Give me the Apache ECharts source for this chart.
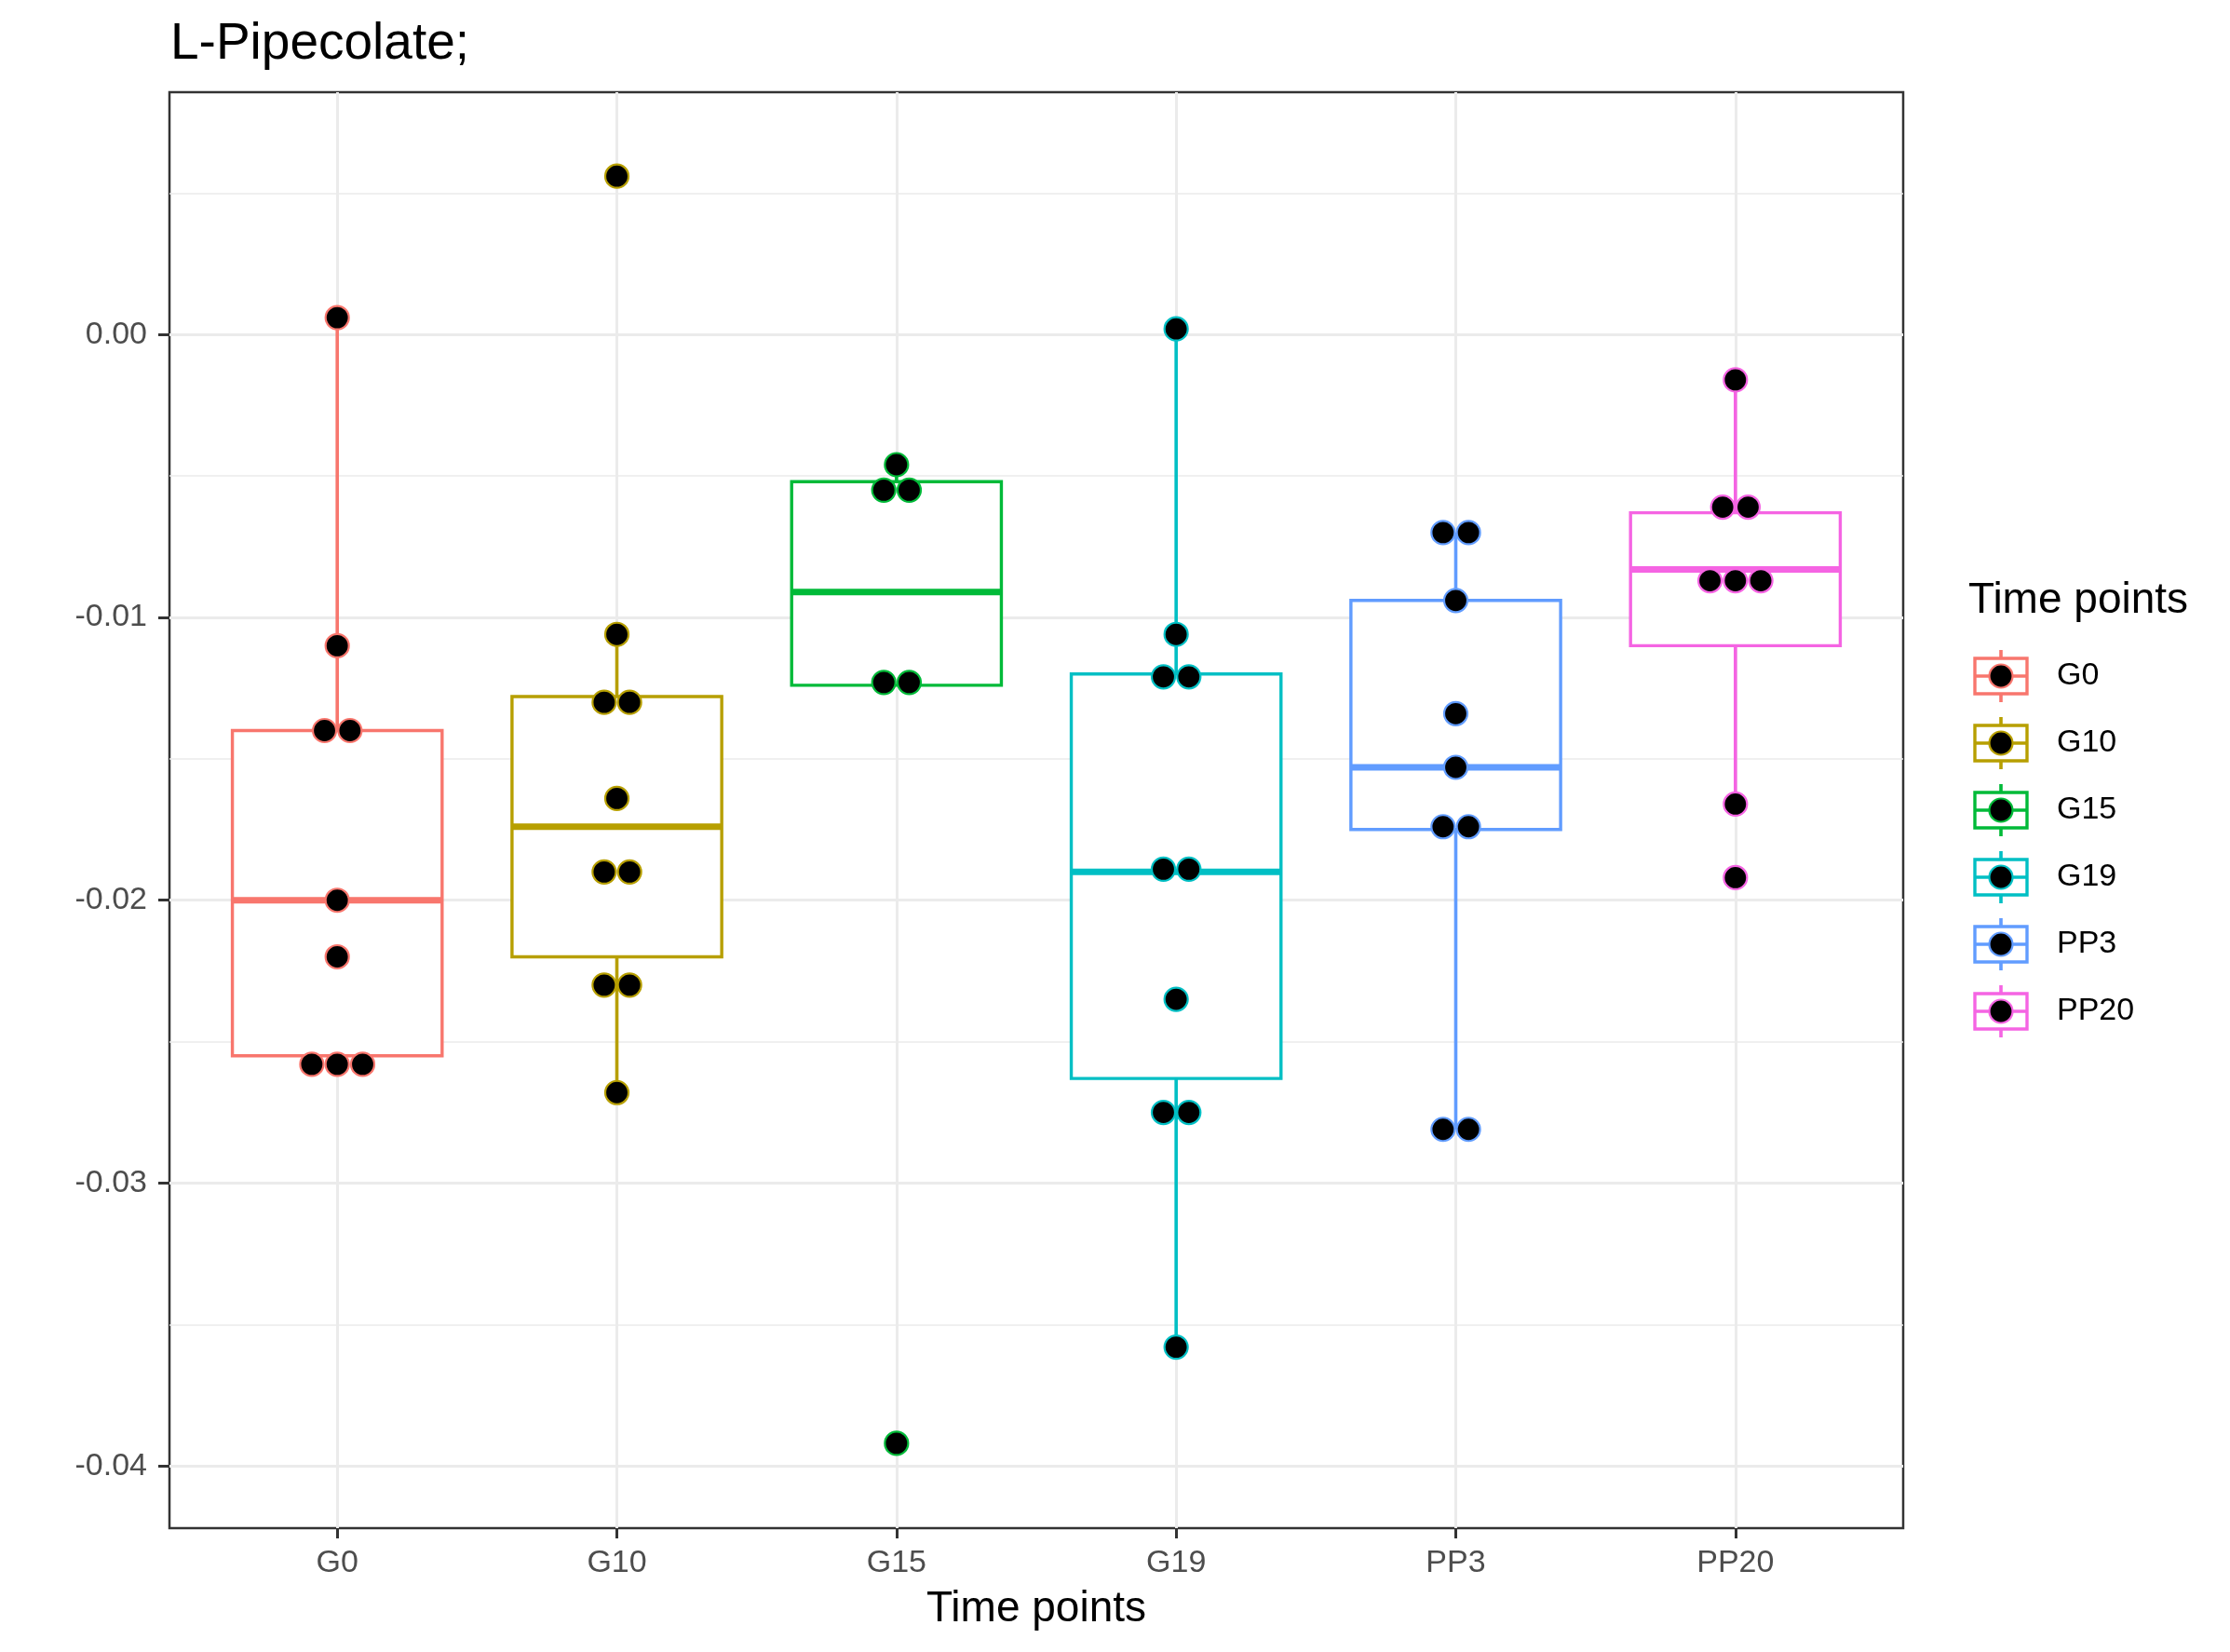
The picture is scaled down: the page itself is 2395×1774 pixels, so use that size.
<!DOCTYPE html>
<html>
<head>
<meta charset="utf-8">
<script src="https://cdn.jsdelivr.net/npm/echarts@6/dist/echarts.min.js"></script>
<style>
html,body{margin:0;padding:0;background:#fff;}
#chart{width:2395px;height:1774px;}
</style>
</head>
<body>
<div id="chart"></div>
<script>
// ---- data ----
const categories = ['G0', 'G10', 'G15', 'G19', 'PP3', 'PP20'];
const yTickValues = [-0.04, -0.03, -0.02, -0.01, 0];
const yMinorValues = [-0.035, -0.025, -0.015, -0.005, 0.005];

const pointsG0   = [0.0006, -0.0110, -0.0140, -0.0140, -0.0200, -0.0220, -0.0258, -0.0258, -0.0258];
const pointsG10  = [0.0056, -0.0106, -0.0130, -0.0130, -0.0164, -0.0190, -0.0190, -0.0230, -0.0230, -0.0268];
const pointsG15  = [-0.0046, -0.0055, -0.0055, -0.0123, -0.0123, -0.0392];
const pointsG19  = [0.0002, -0.0106, -0.0121, -0.0121, -0.0189, -0.0189, -0.0235, -0.0275, -0.0275, -0.0358];
const pointsPP3  = [-0.0070, -0.0070, -0.0094, -0.0134, -0.0153, -0.0174, -0.0174, -0.0281, -0.0281];
const pointsPP20 = [-0.0016, -0.0061, -0.0061, -0.0087, -0.0087, -0.0087, -0.0166, -0.0192];

// box stats: [lower whisker, Q1, median, Q3, upper whisker]
const boxG0   = [-0.0255, -0.0255, -0.0200, -0.0140, 0.0006];
const boxG10  = [-0.0268, -0.0220, -0.0174, -0.0128, -0.0106];
const boxG15  = [-0.0124, -0.0124, -0.0091, -0.0052, -0.0046];
const boxG19  = [-0.0358, -0.0263, -0.0190, -0.0120, 0.0002];
const boxPP3  = [-0.0281, -0.0175, -0.0153, -0.0094, -0.0070];
const boxPP20 = [-0.0166, -0.0110, -0.0083, -0.0063, -0.0016];

// ---- styles ----
const colors = ['#F8766D', '#B79F00', '#00BA38', '#00BFC4', '#619CFF', '#F564E3'];
const FONT = "'Liberation Sans', Arial, Helvetica, sans-serif";

const allPoints = [pointsG0, pointsG10, pointsG15, pointsG19, pointsPP3, pointsPP20];
const allBoxes = [boxG0, boxG10, boxG15, boxG19, boxPP3, boxPP20];

const DOT = 25;        // dot size
const STACK = 27.3;    // horizontal spacing of stacked dots (px)

const boxData = allBoxes.map((b, i) => [i + 1].concat(b).concat([i]));

const scatterSeries = allPoints.map((vals, gi) => {
  const counts = {};
  vals.forEach(v => { const k = v.toFixed(5); counts[k] = (counts[k] || 0) + 1; });
  const seen = {};
  const data = vals.map(v => {
    const k = v.toFixed(5);
    const n = counts[k];
    const idx = seen[k] || 0;
    seen[k] = idx + 1;
    const off = (idx - (n - 1) / 2) * STACK;
    return { value: [gi + 1, v], symbolOffset: [off, 0] };
  });
  return {
    type: 'scatter',
    name: categories[gi],
    data: data,
    symbol: 'circle',
    symbolSize: DOT,
    z: 5,
    itemStyle: { color: '#000', borderColor: colors[gi], borderWidth: 2.2, opacity: 1 },
    emphasis: { disabled: true },
    silent: true
  };
});

const chart = echarts.init(document.getElementById('chart'), null, { renderer: 'canvas' });

// legend built from categories/colors
const legendGraphics = [];
const LX = 2121, LW = 56, LY0 = 726, LSTEP = 72;
legendGraphics.push({
  type: 'text', left: 2114, top: 622,
  style: { text: 'Time points', font: '46px ' + FONT, fill: '#000' }
});
categories.forEach((c, i) => {
  const cy = LY0 + i * LSTEP;
  const cx = LX + LW / 2;
  legendGraphics.push({ type: 'line', shape: { x1: cx, y1: cy - 28, x2: cx, y2: cy + 28 }, style: { stroke: colors[i], lineWidth: 3.6 } });
  legendGraphics.push({ type: 'rect', shape: { x: LX, y: cy - 19, width: LW, height: 38 }, style: { fill: '#fff', stroke: colors[i], lineWidth: 3.4 } });
  legendGraphics.push({ type: 'line', shape: { x1: LX, y1: cy, x2: LX + LW, y2: cy }, style: { stroke: colors[i], lineWidth: 3.4 } });
  legendGraphics.push({ type: 'circle', shape: { cx: cx, cy: cy, r: 12.5 }, style: { fill: '#000', stroke: colors[i], lineWidth: 2.2 } });
  legendGraphics.push({ type: 'text', x: 2209, y: cy, style: { text: c, font: '34px ' + FONT, fill: '#000', textVerticalAlign: 'middle', verticalAlign: 'middle' } });
});

const option = {
  animation: false,
  backgroundColor: '#fff',
  title: {
    text: 'L-Pipecolate;',
    left: 178, top: 15,
    textStyle: { fontFamily: FONT, fontSize: 55, fontWeight: 'normal', color: '#000' }
  },
  grid: {
    left: 182, top: 99, width: 1862, height: 1542,
    show: true, borderColor: '#333333', borderWidth: 2.5, backgroundColor: 'transparent',
    containLabel: false
  },
  xAxis: {
    type: 'value', min: 0.4, max: 6.6, position: 'bottom',
    axisLine: { show: false, onZero: false },
    axisTick: { show: true, customValues: [1, 2, 3, 4, 5, 6], length: 11, lineStyle: { color: '#333333', width: 3 } },
    axisLabel: {
      customValues: [1, 2, 3, 4, 5, 6],
      formatter: v => categories[Math.round(v) - 1],
      color: '#4D4D4D', fontSize: 34, fontFamily: FONT, margin: 21
    },
    splitLine: { show: true, lineStyle: { color: '#EBEBEB', width: 3 } },
    name: 'Time points', nameLocation: 'middle', nameGap: 64,
    nameTextStyle: { fontFamily: FONT, fontSize: 46, color: '#000' }
  },
  yAxis: [{
    type: 'value', min: -0.0422, max: 0.00857, position: 'left',
    axisLine: { show: false, onZero: false },
    axisTick: { show: true, customValues: yTickValues, length: 12, lineStyle: { color: '#333333', width: 3 } },
    axisLabel: {
      customValues: yTickValues,
      formatter: v => (Math.abs(v) < 1e-12 ? 0 : v).toFixed(2),
      color: '#4D4D4D', fontSize: 34, fontFamily: FONT, margin: 24
    },
    splitLine: { show: true, lineStyle: { color: '#EBEBEB', width: 3 } }
  }, {
    type: 'value', min: -0.0422, max: 0.00857, position: 'left',
    axisLine: { show: false, onZero: false },
    axisTick: { show: false, customValues: yMinorValues },
    axisLabel: { show: false, customValues: yMinorValues },
    splitLine: { show: true, lineStyle: { color: '#EBEBEB', width: 1.6 } }
  }],
  series: [{
    type: 'custom',
    name: 'boxes',
    data: boxData,
    encode: { x: 0, y: [1, 2, 3, 4, 5] },
    z: 3,
    silent: true,
    renderItem: function (params, api) {
      const x = api.value(0);
      const lo = api.coord([x, api.value(1)]);
      const q1 = api.coord([x, api.value(2)]);
      const md = api.coord([x, api.value(3)]);
      const q3 = api.coord([x, api.value(4)]);
      const hi = api.coord([x, api.value(5)]);
      const w = api.size([0.75, 0])[0];
      const col = colors[api.value(6)];
      const cx = lo[0];
      return {
        type: 'group',
        children: [
          { type: 'line', shape: { x1: cx, y1: hi[1], x2: cx, y2: q3[1] }, style: { stroke: col, lineWidth: 3.6 } },
          { type: 'line', shape: { x1: cx, y1: q1[1], x2: cx, y2: lo[1] }, style: { stroke: col, lineWidth: 3.6 } },
          { type: 'rect', shape: { x: cx - w / 2, y: q3[1], width: w, height: q1[1] - q3[1] }, style: { fill: '#fff', stroke: col, lineWidth: 3.4 } },
          { type: 'line', shape: { x1: cx - w / 2, y1: md[1], x2: cx + w / 2, y2: md[1] }, style: { stroke: col, lineWidth: 7 } }
        ]
      };
    }
  }].concat(scatterSeries),
  graphic: legendGraphics
};

chart.setOption(option);
</script>
</body>
</html>
